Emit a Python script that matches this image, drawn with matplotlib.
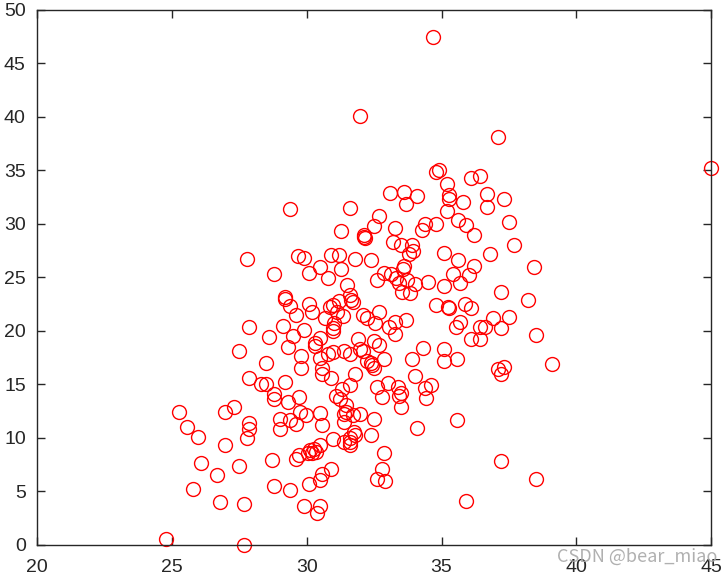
import matplotlib
matplotlib.use("Agg")
import matplotlib.pyplot as plt

x_vals = [34.70, 31.98, 37.09, 45.0, 34.78, 34.92, 36.11, 36.42, 35.21, 33.09, 33.60, 34.10,
          35.29, 35.29, 36.70, 37.31, 33.69, 35.79, 29.38, 31.60, 36.70, 35.21, 32.70, 35.60,
          37.52, 32.49, 34.39, 34.80, 35.91, 33.29, 34.27, 31.28, 32.13, 32.17, 32.12, 36.20,
          33.21, 33.50, 37.70, 33.89, 33.93, 33.79, 29.67, 29.89, 30.89, 31.19, 35.09, 36.81,
          27.79, 31.79, 32.39, 35.60, 30.51, 31.28, 33.62, 33.59, 36.20, 38.42, 30.10, 28.78,
          32.87, 33.12, 35.41, 36.01, 30.80, 32.59, 33.33, 33.41, 33.72, 34.51, 34.01, 35.69,
          31.48, 35.09, 33.52, 33.84, 37.21, 31.62, 29.18, 29.21, 38.22, 31.65, 31.70, 31.19,
          29.38, 30.08, 30.85, 30.97, 34.80, 35.24, 35.29, 35.87, 36.11, 31.14, 30.20, 32.70,
          29.59, 31.36, 32.10, 32.22, 30.68, 36.90, 37.50, 33.69, 32.53, 33.28, 31.02, 35.69,
          29.11, 30.99, 30.99, 33.06, 35.52, 36.42, 36.61, 27.88, 37.21, 29.89, 28.60, 29.50,
          33.29, 38.49, 36.08, 36.42, 31.89, 30.49, 30.30, 30.30, 32.49, 32.70, 29.30, 34.30,
          35.09, 31.98, 32.08, 31.40, 27.48, 30.99, 30.80, 31.60, 29.79, 30.51, 32.88, 33.89,
          35.58, 35.09, 32.25, 32.39, 32.44, 32.49, 28.49, 39.10, 29.79, 30.58, 30.58, 37.09,
          37.31, 37.21, 31.81, 34.01, 27.88, 30.89, 28.29, 28.48, 29.19, 33.00, 34.61, 34.39,
          31.62, 32.59, 33.38, 33.50, 33.41, 31.30, 28.80, 28.80, 31.09, 31.24, 29.71, 32.80,
          34.41, 29.30, 31.45, 33.50, 27.30, 25.26, 26.99, 31.45, 31.38, 31.98, 29.77, 30.49,
          31.70, 29.96, 29.00, 29.38, 32.49, 27.88, 27.88, 35.58, 29.59, 31.38, 30.58, 25.57,
          29.00, 34.10, 31.76, 31.81, 31.62, 27.79, 25.98, 32.39, 30.99, 31.40, 31.62, 31.59,
          26.99, 30.51, 30.13, 30.29, 30.20, 30.34, 30.05, 29.71, 29.59, 32.88, 28.70, 37.21,
          26.08, 27.48, 30.89, 32.80, 26.68, 30.58, 30.51, 32.59, 32.90, 38.49, 28.78, 30.08,
          25.78, 29.38, 35.91, 26.78, 27.69, 29.89, 30.49, 30.39, 24.78, 27.69]

y_vals = [47.5, 40.1, 38.1, 35.2, 34.8, 35.0, 34.3, 34.5, 33.7, 32.9, 33.0, 32.6,
          32.7, 32.3, 32.8, 32.3, 31.9, 32.0, 31.4, 31.5, 31.6, 31.2, 30.7, 30.4,
          30.2, 29.8, 30.0, 30.0, 29.9, 29.6, 29.4, 29.3, 29.0, 28.7, 28.8, 29.0,
          28.3, 28.0, 28.0, 28.0, 27.5, 27.2, 27.0, 26.8, 27.1, 27.1, 27.3, 27.2,
          26.7, 26.7, 26.6, 26.6, 26.0, 25.8, 26.1, 25.8, 26.1, 26.0, 25.4, 25.3,
          25.4, 25.3, 25.3, 25.2, 24.9, 24.8, 24.9, 24.5, 24.8, 24.6, 24.4, 24.5,
          24.3, 24.2, 23.6, 23.5, 23.6, 23.4, 23.2, 23.0, 22.9, 22.9, 22.7, 22.8,
          22.3, 22.5, 22.2, 22.4, 22.4, 22.2, 22.1, 22.5, 22.1, 21.8, 21.8, 21.8,
          21.5, 21.4, 21.5, 21.2, 21.2, 21.2, 21.3, 21.0, 20.7, 20.8, 20.7, 20.8,
          20.5, 20.3, 20.0, 20.4, 20.4, 20.4, 20.4, 20.4, 20.3, 20.1, 19.4, 19.5,
          19.7, 19.6, 19.2, 19.2, 19.2, 19.3, 18.9, 18.6, 19.1, 18.7, 18.5, 18.4,
          18.3, 18.3, 18.1, 18.1, 18.1, 18.0, 17.8, 17.8, 17.7, 17.5, 17.4, 17.4,
          17.4, 17.2, 17.2, 17.0, 16.8, 16.5, 17.0, 16.9, 16.5, 16.5, 16.0, 16.4,
          16.6, 16.0, 16.0, 15.8, 15.6, 15.6, 15.0, 15.0, 15.2, 15.1, 14.9, 14.7,
          14.9, 14.8, 14.8, 14.2, 13.9, 14.6, 14.1, 13.6, 13.9, 13.6, 13.8, 13.8,
          13.7, 13.4, 13.1, 12.9, 12.9, 12.4, 12.4, 12.4, 12.2, 12.2, 12.4, 12.3,
          12.1, 12.1, 11.8, 11.7, 11.8, 11.4, 10.8, 11.7, 11.3, 11.5, 11.2, 11.0,
          10.8, 10.9, 10.6, 10.3, 10.0, 10.0, 10.1, 10.3, 9.9, 9.6, 9.3, 9.6,
          9.3, 9.3, 8.9, 9.0, 8.6, 8.7, 8.6, 8.4, 8.0, 8.6, 7.9, 7.8,
          7.7, 7.4, 7.1, 7.1, 6.5, 6.6, 6.1, 6.2, 6.0, 6.2, 5.5, 5.7,
          5.2, 5.1, 4.1, 4.0, 3.8, 3.6, 3.6, 3.0, 0.6, 0.0]

x_ticks = [20, 25, 30, 35, 40, 45]
y_ticks = [0, 5, 10, 15, 20, 25, 30, 35, 40, 45, 50]

plt.rcParams['font.family'] = ['Liberation Sans', 'DejaVu Sans']

fig = plt.figure(figsize=(7.25, 5.77), dpi=100)
ax = fig.add_axes([0.051, 0.0555, 0.930, 0.9275])
ax.plot(x_vals, y_vals, 'o', markerfacecolor='none', markeredgecolor='red',
        markersize=10, markeredgewidth=1.0, clip_on=False)
ax.set_xlim(20, 45)
ax.set_ylim(0, 50)
ax.set_xticks(x_ticks)
ax.set_yticks(y_ticks)
ax.tick_params(direction='in', top=True, right=True, length=6, width=1,
               labelsize=14, colors='#262626')
ax.tick_params(axis='x', pad=10)
ax.tick_params(axis='y', pad=8)
for s in ax.spines.values():
    s.set_color('#262626')
    s.set_linewidth(1.0)
fig.text(0.99, 0.035, 'CSDN @bear_miao', ha='right', va='center', fontsize=13,
         color='#a8a8a8', family=['Noto Sans CJK SC', 'DejaVu Sans'], alpha=0.9)
fig.savefig('out.png', dpi=100)
